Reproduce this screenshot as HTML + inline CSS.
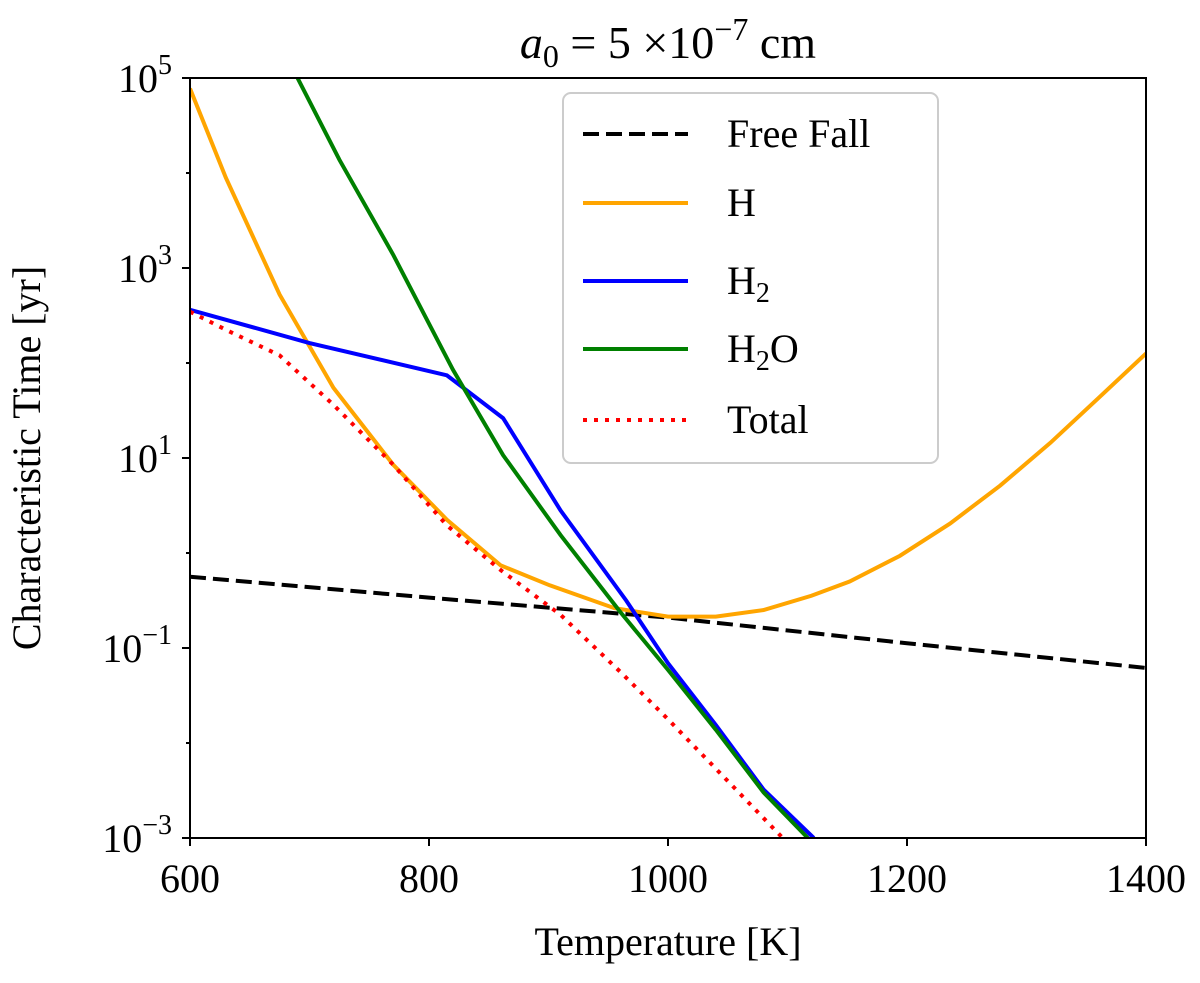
<!DOCTYPE html>
<html><head><meta charset="utf-8"><style>
html,body{margin:0;padding:0;background:#fff;}
svg text{font-family:"Liberation Serif",serif;fill:#000;}
</style></head><body>
<svg id="chart" width="1200" height="978" xmlns="http://www.w3.org/2000/svg">
<defs><clipPath id="clip"><rect x="190" y="78" width="956" height="760"/></clipPath></defs>
<text x="668" y="58" font-size="46" text-anchor="middle"><tspan font-style="italic">a</tspan><tspan font-size="32" dy="9">0</tspan><tspan dy="-9"> = 5 ×10</tspan><tspan font-size="32" dy="-18">−7</tspan><tspan dy="18"> cm</tspan></text>
<g id="series" clip-path="url(#clip)"></g>
<rect x="190" y="78" width="956" height="760" fill="none" stroke="#000" stroke-width="2"/>
<g id="axes"></g>
<text x="668" y="955" font-size="40" text-anchor="middle">Temperature [K]</text>
<text transform="translate(40,458) rotate(-90)" font-size="40" text-anchor="middle">Characteristic Time [yr]</text>
<g>
<rect x="563" y="93" width="375" height="370" rx="8" fill="#fff" fill-opacity="0.8" stroke="#ccc" stroke-width="2"/>
<line x1="583" y1="134" x2="688" y2="134" stroke="#000" stroke-width="4" stroke-dasharray="16,7"/>
<text x="727" y="147" font-size="40">Free Fall</text>
<line x1="583" y1="203" x2="688" y2="203" stroke="#FFA500" stroke-width="4"/>
<text x="727" y="216" font-size="40">H</text>
<line x1="583" y1="281" x2="688" y2="281" stroke="#0000FF" stroke-width="4"/>
<text x="727" y="294" font-size="40">H<tspan font-size="28" dy="8">2</tspan></text>
<line x1="583" y1="349" x2="688" y2="349" stroke="#008000" stroke-width="4"/>
<text x="727" y="362" font-size="40">H<tspan font-size="28" dy="8">2</tspan><tspan dy="-8">O</tspan></text>
<line x1="583" y1="420" x2="688" y2="420" stroke="#FF0000" stroke-width="4" stroke-dasharray="4,7"/>
<text x="727" y="433" font-size="40">Total</text>
</g>
</svg>
<script>
const xTicks=[600,800,1000,1200,1400];
const yTickExps=[5,3,1,-1,-3];
const freeFallT=[600,800,1000,1200,1400];
const freeFallLog=[-0.25,-0.47,-0.68,-0.95,-1.21];
const hT=[600,630,675,720,770,815,860,901,955,1000,1040,1080,1120,1152,1194,1236,1278,1320,1361,1400];
const hLog=[4.89,3.95,2.72,1.74,0.93,0.35,-0.13,-0.34,-0.58,-0.67,-0.67,-0.6,-0.45,-0.3,-0.03,0.31,0.71,1.16,1.64,2.1];
const h2T=[600,700,815,862,910,965,1000,1040,1080,1122];
const h2Log=[2.56,2.21,1.87,1.42,0.45,-0.5,-1.16,-1.81,-2.49,-3];
const h2oT=[690,725,770,820,862,910,960,1000,1040,1080,1117];
const h2oLog=[5,4.14,3.14,1.93,1.03,0.19,-0.62,-1.23,-1.86,-2.52,-3];
const totT=[600,630,675,720,770,815,860,910,960,1000,1040,1096];
const totLog=[2.54,2.35,2.08,1.56,0.93,0.29,-0.18,-0.65,-1.25,-1.75,-2.27,-3];
const NS="http://www.w3.org/2000/svg";
function xs(t){return 190+(t-600)*956/800;}
function ys(l){return 78+(5-l)*95;}
const series=document.getElementById('series');
function line(T,L,color,dash,name){
  const p=document.createElementNS(NS,'polyline');
  p.setAttribute('points',T.map((t,i)=>xs(t)+','+ys(L[i])).join(' '));
  p.setAttribute('fill','none');p.setAttribute('stroke',color);p.setAttribute('stroke-width','4');
  if(dash)p.setAttribute('stroke-dasharray',dash);
  
  
  series.appendChild(p);
}
line(freeFallT,freeFallLog,'#000','16,7','free-fall-line');
line(hT,hLog,'#FFA500',null,'h-line');
line(h2T,h2Log,'#0000FF',null,'h2-line');
line(h2oT,h2oLog,'#008000',null,'h2o-line');
line(totT,totLog,'#FF0000','4,7','total-line');
const axes=document.getElementById('axes');
function el(tag,attrs){const e=document.createElementNS(NS,tag);for(const k in attrs)e.setAttribute(k,attrs[k]);axes.appendChild(e);return e;}
xTicks.forEach(t=>{
  const l=el('line',{x1:xs(t),x2:xs(t),y1:838,y2:846,stroke:'#000','stroke-width':2});
  
  
  const tx=el('text',{x:xs(t),y:892,'font-size':40,'text-anchor':'middle'});
  tx.textContent=t;
  
  
});
for(let e=-3;e<=5;e++){
  const major=yTickExps.includes(e);
  const l=el('line',{x1:190-(major?8:4),x2:190,y1:ys(e),y2:ys(e),stroke:'#000','stroke-width':2});
  
  
}
yTickExps.forEach(e=>{
  const tx=el('text',{x:172,y:ys(e)+14,'font-size':40,'text-anchor':'end'});
  tx.innerHTML='10<tspan font-size="28" dy="-18">'+(e<0?'−'+(-e):e)+'</tspan>';
  
  
});
</script>
</body></html>
